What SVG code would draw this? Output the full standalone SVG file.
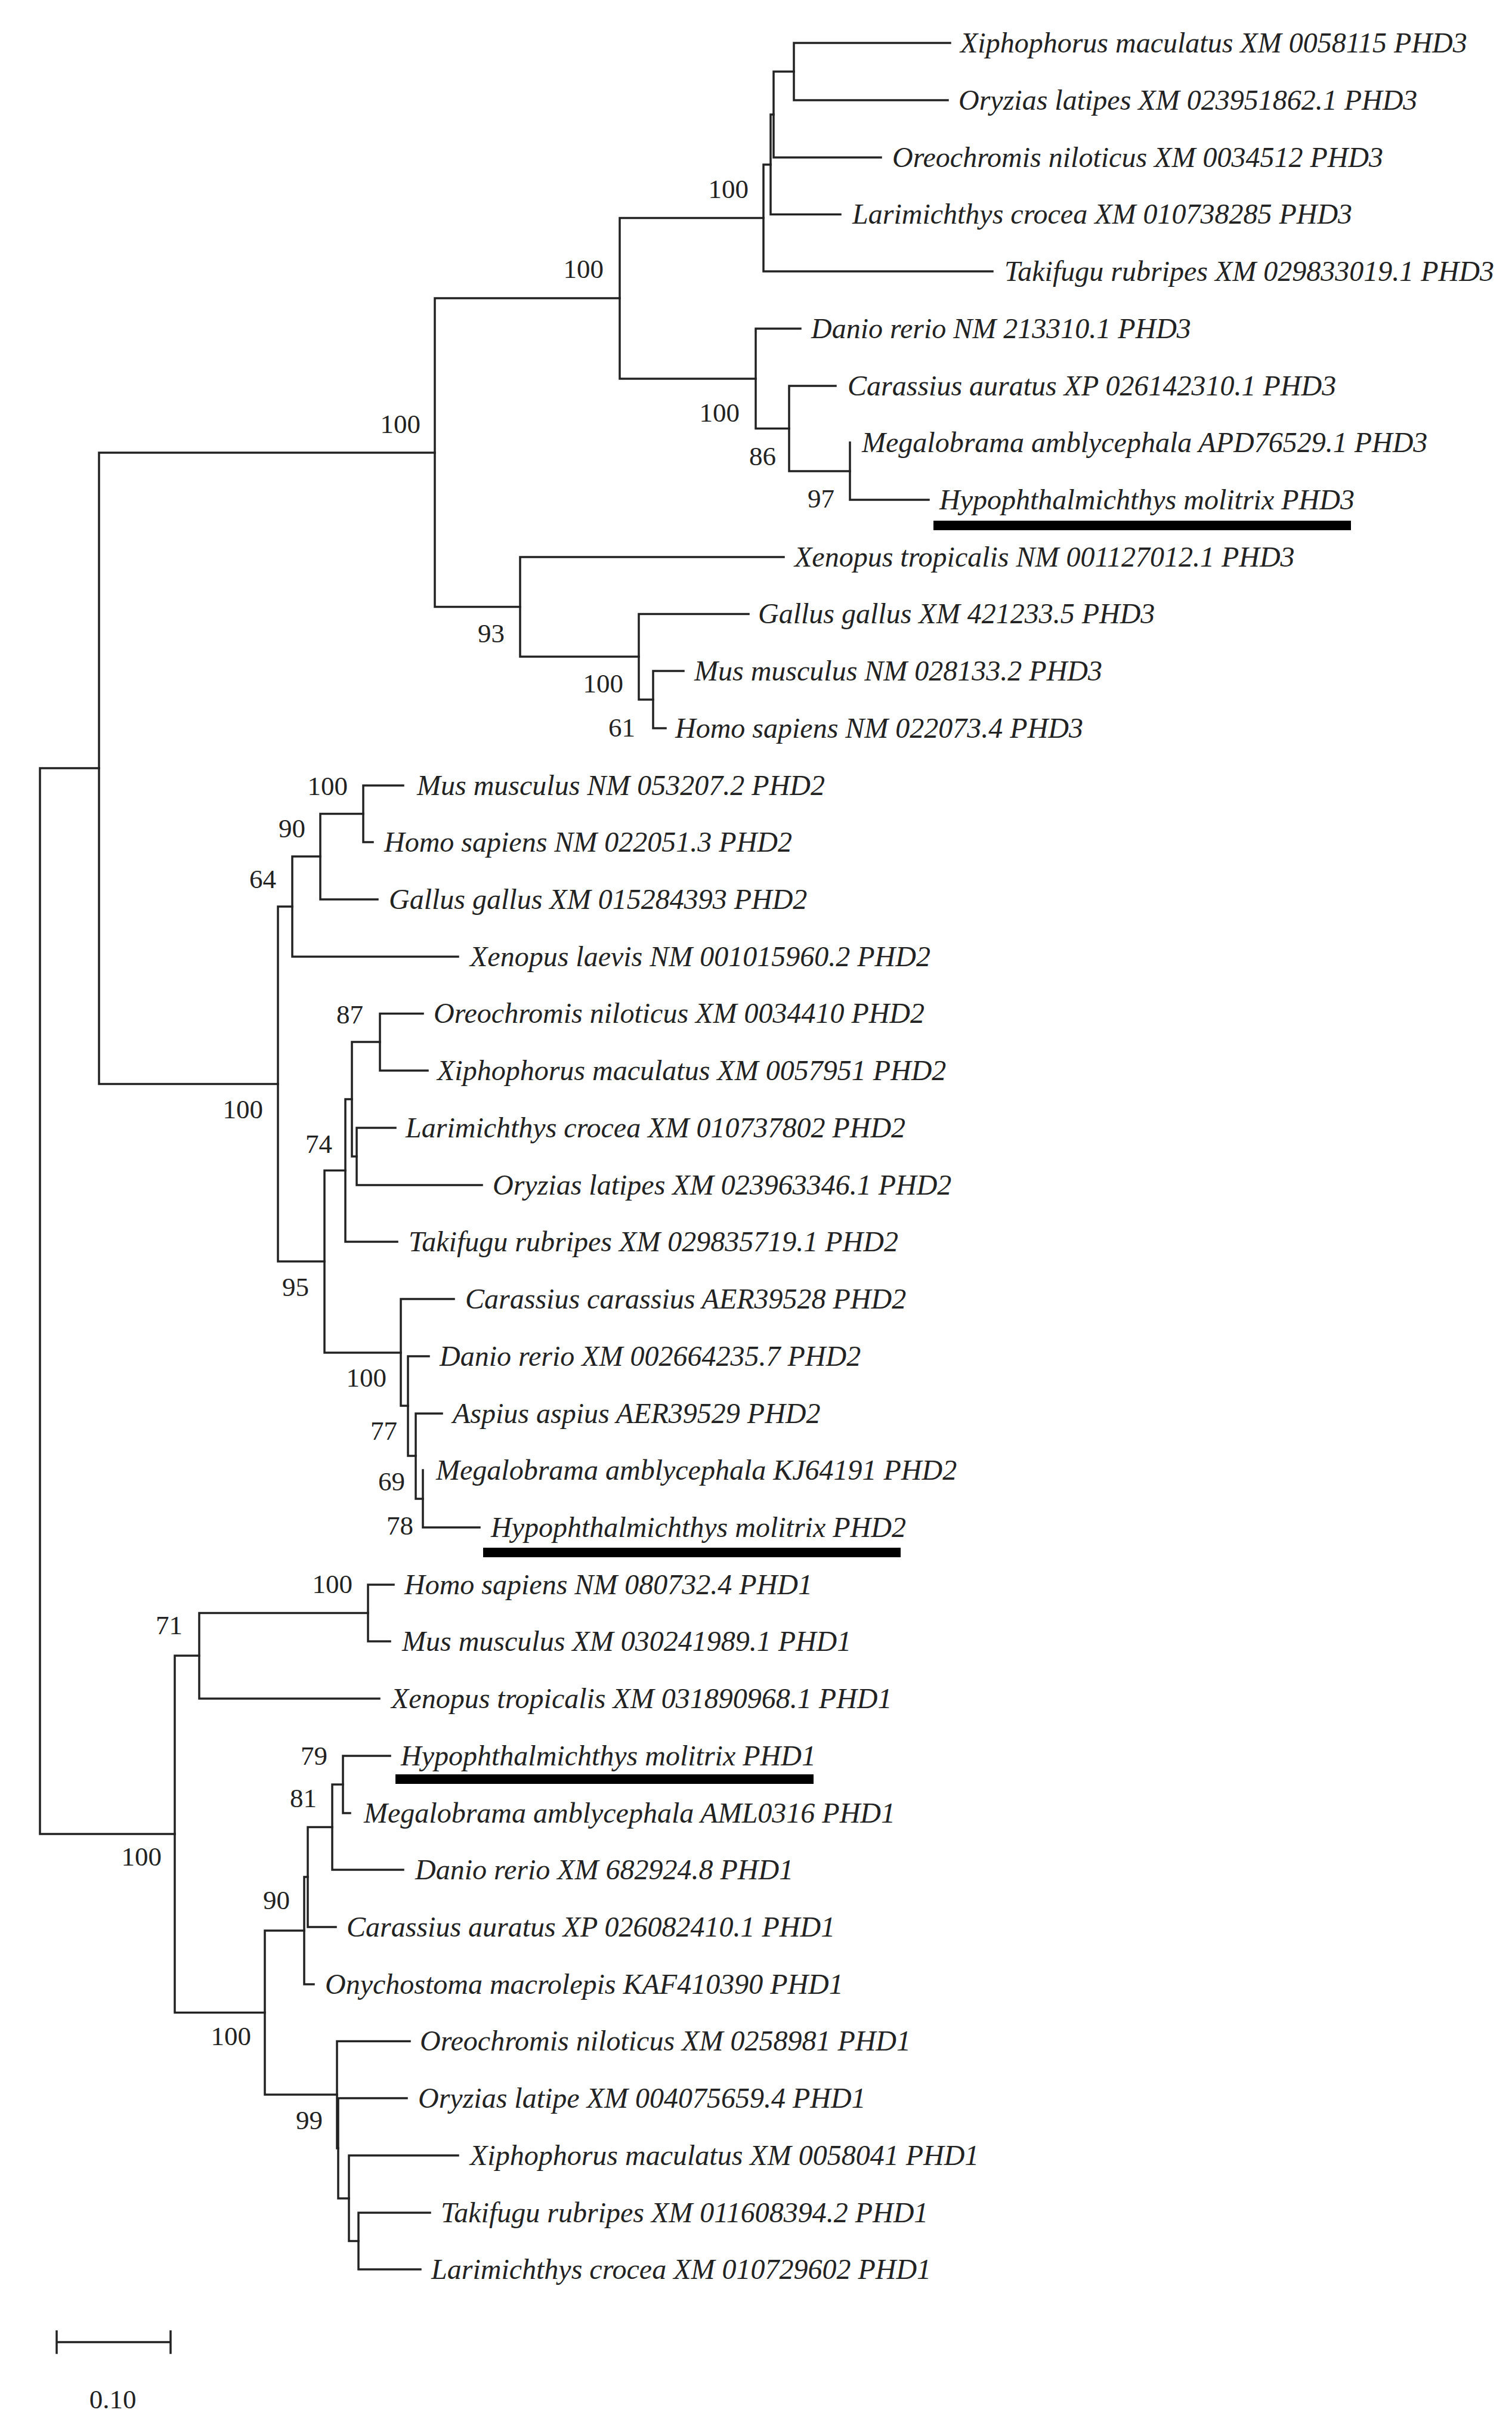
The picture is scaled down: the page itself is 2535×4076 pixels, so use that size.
<svg xmlns="http://www.w3.org/2000/svg" width="2535" height="4076" viewBox="0 0 2535 4076">
<style>
.e{stroke:#222;stroke-width:3.5;fill:none;stroke-linecap:square}
.t{font-family:"Liberation Serif","Times New Roman",serif;font-style:italic;font-size:48px;fill:#222}
.b{font-family:"Liberation Serif","Times New Roman",serif;font-size:45px;fill:#222;text-anchor:end}
.s{font-family:"Liberation Serif","Times New Roman",serif;font-size:45px;fill:#222;text-anchor:middle}
.u{fill:#000}
</style>
<rect width="2535" height="4076" fill="#fff"/>
<g id="connectors">
<path class="e" d="M67 1288V3075M67 1288H166M67 3075H293"/>
<path class="e" d="M166 759V1817.5M166 759H729M166 1817.5H466"/>
<path class="e" d="M729 500V1017.5M729 500H1039M729 1017.5H872"/>
<path class="e" d="M1039 365.5V635M1039 365.5H1280M1039 635H1267"/>
<path class="e" d="M1280 276V455M1280 276H1292M1280 455H1664"/>
<path class="e" d="M1292 192V359.5M1292 192H1297M1292 359.5H1409"/>
<path class="e" d="M1297 120V264M1297 120H1331M1297 264H1477"/>
<path class="e" d="M1331 72V168M1331 72H1593M1331 168H1589"/>
<path class="e" d="M1267 551V718.5M1267 551H1342M1267 718.5H1323"/>
<path class="e" d="M1323 647V790M1323 647H1401M1323 790H1425"/>
<path class="e" d="M1425 742V838M1425 838H1557"/>
<path class="e" d="M872 934V1101M872 934H1314M872 1101H1071"/>
<path class="e" d="M1071 1029.5V1173M1071 1029.5H1255M1071 1173H1095"/>
<path class="e" d="M1095 1125V1221M1095 1125H1146M1095 1221H1116"/>
<path class="e" d="M466 1520V2115M466 1520H490M466 2115H544"/>
<path class="e" d="M490 1436V1604M490 1436H537M490 1604H768"/>
<path class="e" d="M537 1364.5V1508M537 1364.5H609M537 1508H633"/>
<path class="e" d="M609 1317V1412M609 1317H676M609 1412H625"/>
<path class="e" d="M544 1962.5V2268M544 1962.5H579M544 2268H672"/>
<path class="e" d="M579 1843V2082M579 1843H590M579 2082H666"/>
<path class="e" d="M590 1747V1939M590 1747H637M590 1939H598"/>
<path class="e" d="M637 1699.5V1795M637 1699.5H709M637 1795H717"/>
<path class="e" d="M598 1891V1987M598 1891H663M598 1987H808"/>
<path class="e" d="M672 2178V2357M672 2178H761M672 2357H684"/>
<path class="e" d="M684 2274V2441M684 2274H719M684 2441H697"/>
<path class="e" d="M697 2370V2513M697 2370H741M697 2513H709"/>
<path class="e" d="M709 2465V2561M709 2561H804"/>
<path class="e" d="M293 2776V3374.5M293 2776H334M293 3374.5H444"/>
<path class="e" d="M334 2704.5V2848M334 2704.5H617M334 2848H636"/>
<path class="e" d="M617 2657V2752M617 2657H660M617 2752H654"/>
<path class="e" d="M444 3237V3512M444 3237H510M444 3512H565"/>
<path class="e" d="M510 3147V3327M510 3147H516M510 3327H526"/>
<path class="e" d="M516 3063.5V3231M516 3063.5H557M516 3231H563"/>
<path class="e" d="M557 2992V3135M557 2992H575M557 3135H676"/>
<path class="e" d="M575 2944V3040M575 2944H654M575 3040H587"/>
<path class="e" d="M565 3422.5V3602M565 3422.5H687M565 3602H567"/>
<path class="e" d="M567 3518V3686M567 3518H682M567 3686H585"/>
<path class="e" d="M585 3614V3757.5M585 3614H768M585 3757.5H601"/>
<path class="e" d="M601 3710V3805M601 3710H721M601 3805H705"/>
</g>
<g id="bootstrap">
<text class="b" x="1255" y="332">100</text>
<text class="b" x="1012" y="466">100</text>
<text class="b" x="1240" y="707">100</text>
<text class="b" x="1301" y="780">86</text>
<text class="b" x="1399" y="851">97</text>
<text class="b" x="705" y="726">100</text>
<text class="b" x="846" y="1077">93</text>
<text class="b" x="1045" y="1161">100</text>
<text class="b" x="1065" y="1235">61</text>
<text class="b" x="583" y="1333">100</text>
<text class="b" x="512" y="1404">90</text>
<text class="b" x="463" y="1489">64</text>
<text class="b" x="609" y="1716">87</text>
<text class="b" x="441" y="1875">100</text>
<text class="b" x="557" y="1933">74</text>
<text class="b" x="518" y="2173">95</text>
<text class="b" x="648" y="2325">100</text>
<text class="b" x="666" y="2414">77</text>
<text class="b" x="679" y="2499">69</text>
<text class="b" x="693" y="2573">78</text>
<text class="b" x="591" y="2671">100</text>
<text class="b" x="306" y="2740">71</text>
<text class="b" x="271" y="3128">100</text>
<text class="b" x="549" y="2959">79</text>
<text class="b" x="531" y="3030">81</text>
<text class="b" x="486" y="3201">90</text>
<text class="b" x="421" y="3429">100</text>
<text class="b" x="541" y="3570">99</text>
</g>
<g id="leaf1"><text class="t" x="1610" y="88">Xiphophorus maculatus XM 0058115 PHD3</text></g>
<g id="leaf2"><text class="t" x="1607" y="184">Oryzias latipes XM 023951862.1 PHD3</text></g>
<g id="leaf3"><text class="t" x="1496" y="280">Oreochromis niloticus XM 0034512 PHD3</text></g>
<g id="leaf4"><text class="t" x="1429" y="375">Larimichthys crocea XM 010738285 PHD3</text></g>
<g id="leaf5"><text class="t" x="1684" y="471">Takifugu rubripes XM 029833019.1 PHD3</text></g>
<g id="leaf6"><text class="t" x="1360" y="567">Danio rerio NM 213310.1 PHD3</text></g>
<g id="leaf7"><text class="t" x="1421" y="663">Carassius auratus XP 026142310.1 PHD3</text></g>
<g id="leaf8"><text class="t" x="1445" y="758">Megalobrama amblycephala APD76529.1 PHD3</text></g>
<g id="leaf9"><text class="t" x="1575" y="854">Hypophthalmichthys molitrix PHD3</text><rect class="u" x="1565" y="873" width="700" height="16"/></g>
<g id="leaf10"><text class="t" x="1332" y="950">Xenopus tropicalis NM 001127012.1 PHD3</text></g>
<g id="leaf11"><text class="t" x="1271" y="1045">Gallus gallus XM 421233.5 PHD3</text></g>
<g id="leaf12"><text class="t" x="1164" y="1141">Mus musculus NM 028133.2 PHD3</text></g>
<g id="leaf13"><text class="t" x="1132" y="1237">Homo sapiens NM 022073.4 PHD3</text></g>
<g id="leaf14"><text class="t" x="699" y="1333">Mus musculus NM 053207.2 PHD2</text></g>
<g id="leaf15"><text class="t" x="644" y="1428">Homo sapiens NM 022051.3 PHD2</text></g>
<g id="leaf16"><text class="t" x="652" y="1524">Gallus gallus XM 015284393 PHD2</text></g>
<g id="leaf17"><text class="t" x="788" y="1620">Xenopus laevis NM 001015960.2 PHD2</text></g>
<g id="leaf18"><text class="t" x="727" y="1715">Oreochromis niloticus XM 0034410 PHD2</text></g>
<g id="leaf19"><text class="t" x="733" y="1811">Xiphophorus maculatus XM 0057951 PHD2</text></g>
<g id="leaf20"><text class="t" x="680" y="1907">Larimichthys crocea XM 010737802 PHD2</text></g>
<g id="leaf21"><text class="t" x="826" y="2003">Oryzias latipes XM 023963346.1 PHD2</text></g>
<g id="leaf22"><text class="t" x="685" y="2098">Takifugu rubripes XM 029835719.1 PHD2</text></g>
<g id="leaf23"><text class="t" x="780" y="2194">Carassius carassius AER39528 PHD2</text></g>
<g id="leaf24"><text class="t" x="737" y="2290">Danio rerio XM 002664235.7 PHD2</text></g>
<g id="leaf25"><text class="t" x="759" y="2386">Aspius aspius AER39529 PHD2</text></g>
<g id="leaf26"><text class="t" x="731" y="2481">Megalobrama amblycephala KJ64191 PHD2</text></g>
<g id="leaf27"><text class="t" x="823" y="2577">Hypophthalmichthys molitrix PHD2</text><rect class="u" x="810" y="2595" width="700" height="16"/></g>
<g id="leaf28"><text class="t" x="678" y="2673">Homo sapiens NM 080732.4 PHD1</text></g>
<g id="leaf29"><text class="t" x="674" y="2768">Mus musculus XM 030241989.1 PHD1</text></g>
<g id="leaf30"><text class="t" x="656" y="2864">Xenopus tropicalis XM 031890968.1 PHD1</text></g>
<g id="leaf31"><text class="t" x="672" y="2960">Hypophthalmichthys molitrix PHD1</text><rect class="u" x="663" y="2975" width="701" height="16"/></g>
<g id="leaf32"><text class="t" x="610" y="3056">Megalobrama amblycephala AML0316 PHD1</text></g>
<g id="leaf33"><text class="t" x="696" y="3151">Danio rerio XM 682924.8 PHD1</text></g>
<g id="leaf34"><text class="t" x="581" y="3247">Carassius auratus XP 026082410.1 PHD1</text></g>
<g id="leaf35"><text class="t" x="545" y="3343">Onychostoma macrolepis KAF410390 PHD1</text></g>
<g id="leaf36"><text class="t" x="704" y="3438">Oreochromis niloticus XM 0258981 PHD1</text></g>
<g id="leaf37"><text class="t" x="701" y="3534">Oryzias latipe XM 004075659.4 PHD1</text></g>
<g id="leaf38"><text class="t" x="788" y="3630">Xiphophorus maculatus XM 0058041 PHD1</text></g>
<g id="leaf39"><text class="t" x="739" y="3726">Takifugu rubripes XM 011608394.2 PHD1</text></g>
<g id="leaf40"><text class="t" x="723" y="3821">Larimichthys crocea XM 010729602 PHD1</text></g>
<g id="scalebar">
<path class="e" d="M95 3927H286M95 3909V3945M286 3909V3945"/>
<text class="s" x="189" y="4038">0.10</text>
</g>
</svg>
